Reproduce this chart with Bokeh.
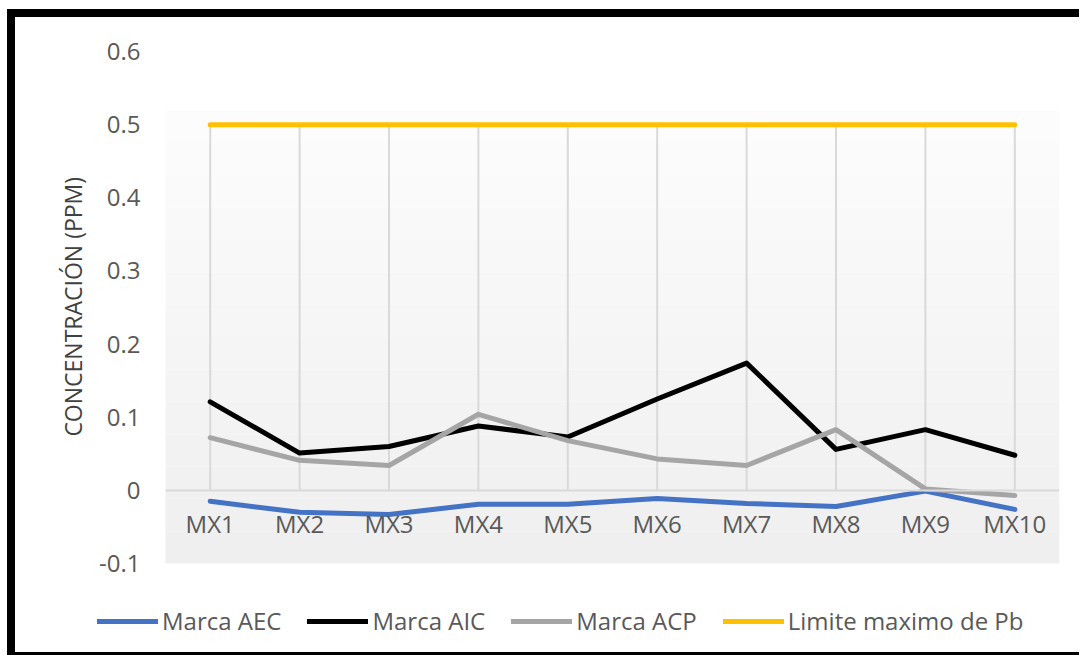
import math
from bokeh.plotting import figure
from bokeh.models import (Range1d, FixedTicker, CustomJSTickFormatter,
                          Legend, LegendItem, BoxAnnotation, Label)
from bokeh.embed import file_html
from bokeh.resources import INLINE

# Lead (Pb) concentration per sample, in ppm
categories = ["MX1", "MX2", "MX3", "MX4", "MX5", "MX6", "MX7", "MX8", "MX9", "MX10"]
marca_aec = [-0.015, -0.030, -0.033, -0.019, -0.019, -0.011, -0.018, -0.022, -0.001, -0.026]
marca_aic = [0.121, 0.051, 0.060, 0.088, 0.073, 0.125, 0.174, 0.056, 0.083, 0.048]
marca_acp = [0.072, 0.041, 0.034, 0.104, 0.068, 0.043, 0.034, 0.083, 0.002, -0.007]
limite_pb = [0.5, 0.5, 0.5, 0.5, 0.5, 0.5, 0.5, 0.5, 0.5, 0.5]
y_ticks = [-0.1, 0.0, 0.1, 0.2, 0.3, 0.4, 0.5, 0.6]

series = [
    ("Marca AEC", marca_aec, "#4472C4"),
    ("Marca AIC", marca_aic, "#000000"),
    ("Marca ACP", marca_acp, "#A5A5A5"),
    ("Limite maximo de Pb", limite_pb, "#FFC000"),
]

FONT = "Open Sans"
TEXT_GREY = "#595959"

xs = list(range(1, len(categories) + 1))     # category slots 1..N
x_lo, x_hi = 0.5, len(categories) + 0.5      # plot-area extent in category units
PX_X, PX_Y = 89.4, 731.43                    # pixels per category / per ppm

# The frame spans the whole canvas, so the legend and axis texts sit inside it;
# the plot area proper is x 0.5..N+0.5, y -0.1..0.519.
y_top = 0.6 + 34 / PX_Y
p = figure(
    x_range=Range1d(x_lo - 150 / PX_X, x_hi),
    y_range=Range1d(y_top - 646 / PX_Y, y_top),
    width=1072, height=646,
    output_backend="svg", toolbar_location=None,
    min_border_left=0, min_border_right=28,
    min_border_top=0, min_border_bottom=0,
)
# black frame around the whole chart
p.styles = {
    "margin-left": "7px", "margin-top": "9px",
    "border-left": "8px solid black", "border-top": "8px solid black",
    "border-bottom": "3px solid black",
}
p.outline_line_color = None
p.background_fill_color = "white"
p.border_fill_color = "white"
p.xgrid.visible = False
p.ygrid.visible = False

# plot-area fill: soft vertical gradient from near-white to light grey
shade_top, shade_bottom = 0.519, -0.1
n_bands = 14
c_top, c_bot = (252, 252, 252), (239, 239, 239)
for i in range(n_bands):
    t = i / (n_bands - 1)
    col = tuple(round(a + (b - a) * t) for a, b in zip(c_top, c_bot))
    y_hi = shade_top - (shade_top - shade_bottom) * i / n_bands
    y_lo = shade_top - (shade_top - shade_bottom) * (i + 1) / n_bands
    p.add_layout(BoxAnnotation(left=x_lo, right=x_hi, top=y_hi, bottom=y_lo,
                               fill_color="#%02x%02x%02x" % col, fill_alpha=1,
                               line_color=None, level="underlay"))

# drop lines from zero up to the limit line
p.segment(x0=xs, y0=[0] * len(xs), x1=xs, y1=limite_pb,
          line_color="#d9d9d9", line_width=2)

renderers = []
for name, vals, color in series:
    r = p.line(xs, vals, line_color=color, line_width=5,
               line_join="round", line_cap="round")
    renderers.append((name, r))

# category axis sits on the zero line
xa = p.xaxis[0]
xa.fixed_location = 0
xa.bounds = (x_lo, x_hi)
xa.ticker = FixedTicker(ticks=xs)
xa.major_label_overrides = {x: c for x, c in zip(xs, categories)}
xa.axis_line_color = "#d9d9d9"
xa.axis_line_width = 2
xa.major_tick_line_color = None
xa.minor_tick_line_color = None
xa.major_label_standoff = 11
xa.major_label_text_font = FONT
xa.major_label_text_font_size = "24px"
xa.major_label_text_color = TEXT_GREY

# value axis at the left edge of the plot area
ya = p.yaxis[0]
ya.fixed_location = x_lo
ya.ticker = FixedTicker(ticks=y_ticks)
ya.formatter = CustomJSTickFormatter(code="return String(Math.round(tick * 10) / 10)")
ya.axis_line_color = None
ya.major_tick_line_color = None
ya.minor_tick_line_color = None
ya.major_label_standoff = 19
ya.major_label_text_font = FONT
ya.major_label_text_font_size = "24px"
ya.major_label_text_color = TEXT_GREY

p.add_layout(Label(
    x=x_lo - 93 / PX_X, y=0.251, text="CONCENTRACIÓN (PPM)", angle=math.pi / 2,
    text_align="center", text_baseline="middle",
    text_font=FONT, text_font_size="23px", text_color="#404040",
))

legend = Legend(
    items=[LegendItem(label=n, renderers=[r]) for n, r in renderers],
    orientation="horizontal", location=(82, 26),
    glyph_width=61, glyph_height=20, label_standoff=4, spacing=26,
    padding=0, margin=0, border_line_color=None, background_fill_alpha=0,
    label_text_font=FONT, label_text_font_size="24px", label_text_color=TEXT_GREY,
)
p.add_layout(legend)

open("out.html", "w").write(file_html(p, INLINE))
